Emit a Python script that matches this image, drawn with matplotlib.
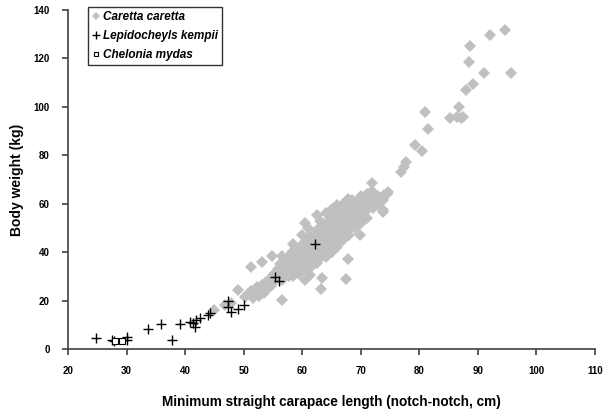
import matplotlib.pyplot as plt

plt.rcParams['font.family'] = ['Liberation Sans', 'DejaVu Sans']

# Caretta caretta (grey diamonds): length (cm), weight (kg)
cc_x = [45.0, 46.8, 47.8, 49.1, 50.3, 50.8, 51.2, 51.3, 51.6, 51.9, 52.3, 52.6, 52.8, 53.1,
        53.2, 53.5, 53.8, 54.1, 54.4, 54.7, 54.9, 55.0, 55.2, 56.5,
        55.3, 55.6, 55.8, 56.0, 56.2, 56.4, 56.6, 56.6, 56.8, 57.0, 57.1, 57.3, 57.5, 57.6,
        57.8, 58.0, 58.1, 58.3, 58.4, 58.4, 58.6, 58.8, 58.9, 59.1, 59.2, 59.4, 59.5, 59.7,
        59.8, 60.0, 60.5, 61.4,
        60.1, 60.2, 60.4, 60.5, 60.6, 60.8, 60.9, 61.0, 61.2, 61.3, 61.5, 61.6, 61.8, 61.9,
        62.0, 62.2, 62.4, 62.5, 62.6, 62.7, 62.9, 63.0, 63.2, 63.3, 63.4, 63.5, 63.6, 63.8,
        63.9, 64.0, 64.2, 64.3, 64.5, 64.6, 64.8, 64.9, 65.0,
        65.1, 65.3, 65.4, 65.6, 65.7, 65.9, 66.0, 66.1, 66.3, 66.4, 66.6, 66.7, 66.9, 67.0,
        67.2, 67.4, 67.4, 67.5, 67.7, 67.9, 67.9, 68.0, 68.2, 68.3, 68.5, 68.6, 68.8, 69.0,
        69.1, 69.3, 69.5, 69.6, 69.9, 69.9, 70.0,
        70.2, 70.4, 70.6, 70.8, 71.0, 71.2, 71.5, 71.8, 72.0, 72.0, 72.1, 72.4, 72.7, 73.0,
        73.3, 73.6, 73.8, 73.8, 74.0, 74.4, 74.7, 73.8,
        76.9, 77.3, 77.8, 79.3, 80.5, 81.0, 81.5, 85.3, 86.5, 87.2, 87.5, 86.8, 88.0, 89.2,
        88.4, 88.7, 91.1, 92.0, 94.7, 95.6,
        58.5, 59.5, 60.5, 61.5, 62.5, 64.0, 65.0, 66.0, 67.0, 68.0, 69.0, 70.0, 71.0,
        60.0, 61.0, 63.0, 64.0, 65.0, 66.0, 67.0, 68.5, 70.0, 71.0]
cc_y = [16.0, 18.2, 18.8, 24.2, 21.5, 22.8, 24.0, 34.0, 21.0, 23.5, 25.5, 22.0, 24.5, 36.0,
        26.5, 23.0, 27.5, 25.0, 28.5, 26.0, 38.4, 30.5, 27.5, 20.2,
        31.5, 29.0, 33.0, 30.5, 35.0, 32.0, 28.5, 38.4, 34.0, 36.5, 31.0, 33.5, 38.0, 35.5,
        30.0, 34.5, 37.0, 40.0, 32.5, 43.5, 36.0, 39.0, 34.0, 41.5, 37.5, 35.0, 39.5, 33.0,
        42.5, 38.0, 28.5, 30.6,
        40.5, 35.5, 44.0, 52.0, 37.5, 41.5, 46.0, 39.0, 43.0, 36.0, 45.5, 41.0, 48.0, 38.5,
        44.0, 40.0, 46.5, 42.0, 55.4, 49.5, 37.0, 45.0, 24.8, 41.5, 29.3, 47.5, 43.0, 50.5,
        39.5, 46.0, 52.0, 44.0, 48.5, 41.0, 53.5, 46.5, 50.0,
        43.5, 48.0, 55.0, 51.0, 45.5, 53.0, 57.4, 49.0, 47.0, 52.5, 55.5, 44.5, 50.5, 54.0,
        48.0, 28.9, 57.0, 51.5, 54.5, 37.2, 62.0, 49.5, 56.0, 53.0, 58.5, 51.0, 55.0, 59.5,
        53.5, 57.0, 61.5, 55.5, 47.1, 58.5, 54.0,
        60.0, 56.2, 58.5, 62.0, 57.5, 60.5, 59.0, 61.5, 65.3, 68.6, 58.3, 62.5, 60.0, 63.0,
        60.3, 62.0, 56.6, 61.6, 63.5, 64.0, 65.0, 57.4,
        73.1, 75.2, 77.3, 84.3, 81.8, 97.9, 91.0, 95.5, 95.8, 95.3, 95.8, 100.0, 107.0, 109.5,
        118.6, 125.2, 114.0, 129.7, 131.8, 114.0,
        30.0, 31.0, 33.0, 34.0, 35.5, 38.0, 40.0, 42.0, 45.0, 47.0, 50.0, 52.0, 54.0,
        47.0, 50.0, 53.0, 56.0, 58.0, 59.5, 60.0, 61.5, 63.0, 64.0]

# Lepidochelys kempii (black crosses)
lk_x = [24.8, 27.5, 27.9, 30.0, 30.1, 33.7, 35.9, 37.8, 39.1, 40.9, 41.4, 41.9, 41.7, 42.6,
        43.9, 44.3, 47.3, 47.3, 47.9, 49.1, 50.1, 55.4, 56.1, 62.2]
lk_y = [4.5, 3.7, 3.3, 5.0, 3.7, 8.3, 10.3, 3.7, 10.3, 11.2, 10.7, 12.0, 9.1, 12.8,
        14.0, 14.9, 19.8, 17.4, 15.3, 16.5, 18.2, 29.8, 28.1, 43.2]

# Chelonia mydas (open squares)
cm_x = [28.0, 29.2]
cm_y = [3.3, 3.4]

fig = plt.figure(figsize=(6.13, 4.13), dpi=100)
ax = fig.add_axes([68 / 613, 64 / 413, 527 / 613, 339 / 413])

ax.plot(cc_x, cc_y, 'D', color='#c0c0c0', markersize=6, markeredgewidth=0,
        label='Caretta caretta', zorder=2)
ax.plot(lk_x, lk_y, '+', color='black', markersize=7, markeredgewidth=1.0,
        label='Lepidocheyls kempii', zorder=3)
ax.plot(cm_x, cm_y, 's', markerfacecolor='white', markeredgecolor='black',
        markersize=4, markeredgewidth=0.8, label='Chelonia mydas', zorder=3)

ax.set_xlim(20, 110)
ax.set_ylim(0, 140)
ax.set_xticks(range(20, 111, 10))
ax.set_yticks(range(0, 141, 20))

for s in ['top', 'right']:
    ax.spines[s].set_visible(False)
for s in ['left', 'bottom']:
    ax.spines[s].set_color('#404040')
    ax.spines[s].set_linewidth(1.2)
ax.tick_params(colors='#404040', width=1.2, length=4, labelcolor='black', labelsize=7)
ax.tick_params(axis='y', pad=9)
ax.tick_params(axis='x', pad=8)
for lab in ax.get_xticklabels() + ax.get_yticklabels():
    lab.set_fontweight('bold')

ax.set_xlabel('Minimum straight carapace length (notch-notch, cm)', fontsize=9.8,
              fontweight='bold', labelpad=14)
ax.set_ylabel('Body weight (kg)', fontsize=10, fontweight='bold', labelpad=7)

leg = ax.legend(loc='upper left', bbox_to_anchor=(88 / 613, 1 - 7 / 413),
                bbox_transform=fig.transFigure, borderaxespad=0, fancybox=False,
                edgecolor='black', handlelength=0.6, handletextpad=0.3,
                borderpad=0.35, labelspacing=0.6, numpoints=1, markerscale=0.75,
                prop={'size': 8.5, 'weight': 'bold', 'style': 'italic'})
leg.get_frame().set_linewidth(1.0)

plt.savefig('out.png', dpi=100)
